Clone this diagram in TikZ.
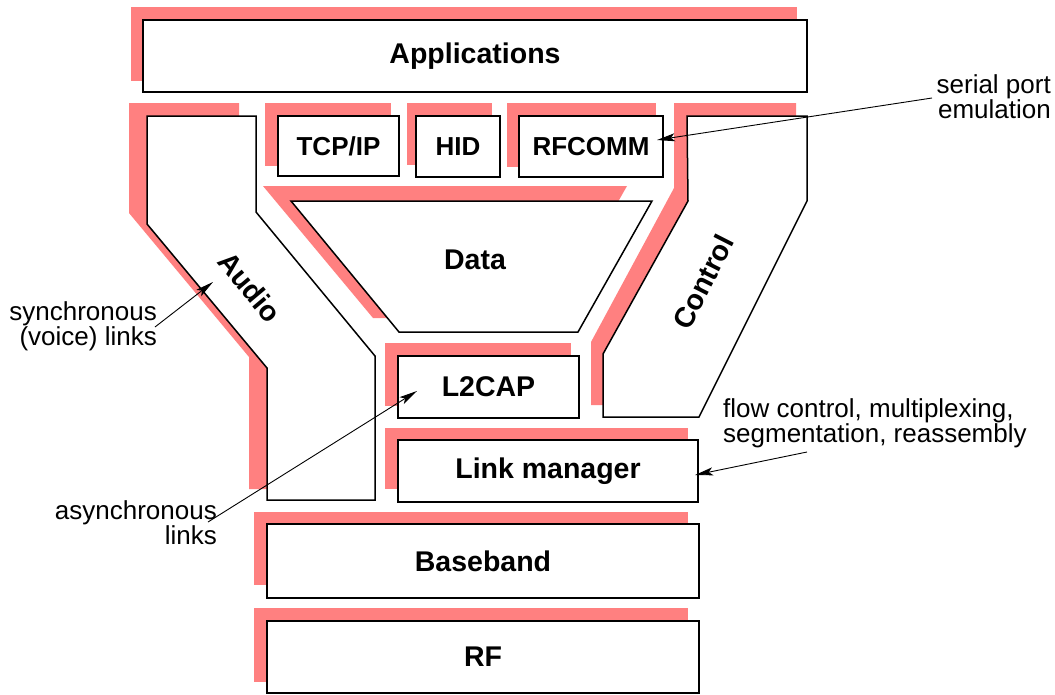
\documentclass[tikz,border=0pt]{standalone}
\usepackage{fontspec}
\setmainfont{Liberation Sans}
\usetikzlibrary{arrows.meta}
\definecolor{shade}{RGB}{255,128,128}
\begin{document}
\begin{tikzpicture}[x=1pt,y=-1pt,
  shadow/.style={fill=shade,draw=none},
  layer/.style={draw=black,fill=white,line width=1.5pt,line join=miter},
  lbl/.style={font=\fontsize{28.5}{31}\selectfont\bfseries,inner sep=0pt},
  box/.style={layer,lbl},
  smallbox/.style={box,font=\fontsize{26}{29}\selectfont\bfseries},
  note/.style={font=\fontsize{26}{23.5}\selectfont,inner sep=0pt},
  arr/.style={line width=0.9pt,-{Stealth[length=18pt,width=8pt,inset=4pt]}}]
\useasboundingbox (0,0) rectangle (1055,694);
% shadows
\fill[shadow] (131,7) rectangle (797,81);
\fill[shadow] (265,103) rectangle (391,166);
\fill[shadow] (407,103) rectangle (492,165);
\fill[shadow] (507,103) rectangle (656,167);
\fill[shadow] (385,343) rectangle (571,406);
\fill[shadow] (385,428) rectangle (688,489);
\fill[shadow] (254,512) rectangle (688,585);
\fill[shadow] (254,608) rectangle (688,682);
\fill[shadow] (129,103) -- (239,103) -- (239,200) -- (357,345) -- (357,489) -- (249,489) -- (249,357) -- (129,213) -- cycle;
\fill[shadow] (674,103) -- (796,103) -- (796,188) -- (688,405) -- (591,405) -- (591,342) -- (674,188) -- cycle;
\fill[shadow] (263,186) -- (627,186) -- (552,318) -- (373,318) -- cycle;
% layers
\node[box, minimum width=664pt, minimum height=72pt] (app) at (475,56) {Applications};
\node[smallbox, minimum width=121pt, minimum height=60pt] (tcp) at (338.5,146) {TCP/IP};
\node[smallbox, minimum width=84pt, minimum height=61pt] (hid) at (458,146.5) {HID};
\node[smallbox, minimum width=144pt, minimum height=61pt] (rfcomm) at (591,146.5) {RFCOMM};
\draw[layer] (147,116) -- (256,116) -- (256,212) -- (375,356) -- (375,500) -- (267,500) -- (267,368) -- (147,224) -- cycle;
\node[lbl, rotate=-50] (audio) at (250,287) {Audio};
\draw[layer] (687,116) -- (807,116) -- (807,201) -- (699,417) -- (603,417) -- (603,354) -- (688,201) -- cycle;
\node[lbl, rotate=63] (control) at (703,282) {Control};
\draw[layer] (291,201) -- (652,201) -- (578,332) -- (399,332) -- cycle;
\node[lbl] (data) at (475,260) {Data};
\node[box, minimum width=181pt, minimum height=62pt] (l2cap) at (488.5,387) {L2CAP};
\node[box, minimum width=300pt, minimum height=62pt] (lm) at (548,471) {Link manager};
\node[box, minimum width=432pt, minimum height=74pt] (bb) at (483,561) {Baseband};
\node[box, minimum width=432pt, minimum height=72pt] (rf) at (483,657) {RF};
% annotations
\node[note, align=right, anchor=east] (serial) at (1051,97) {serial port\\emulation};
\node[note, align=right, anchor=east] (sync) at (157,326) {synchronous\\(voice) links};
\node[note, align=right, anchor=east] (async) at (217,523) {asynchronous\\links};
\node[note, align=left, anchor=west] (flow) at (723,423) {flow control, multiplexing,\\segmentation, reassembly};
\coordinate (serialS) at (932,98);
\coordinate (serialT) at (657,140);
\coordinate (syncS) at (155,327);
\coordinate (syncT) at (213,282);
\coordinate (asyncS) at (208,522);
\coordinate (asyncT) at (417,391);
\coordinate (flowS) at (807,452);
\coordinate (flowT) at (695,475);
\draw[arr] (serialS) -- (serialT);
\draw[arr] (syncS) -- (syncT);
\draw[arr] (asyncS) -- (asyncT);
\draw[arr] (flowS) -- (flowT);
\end{tikzpicture}
\end{document}
